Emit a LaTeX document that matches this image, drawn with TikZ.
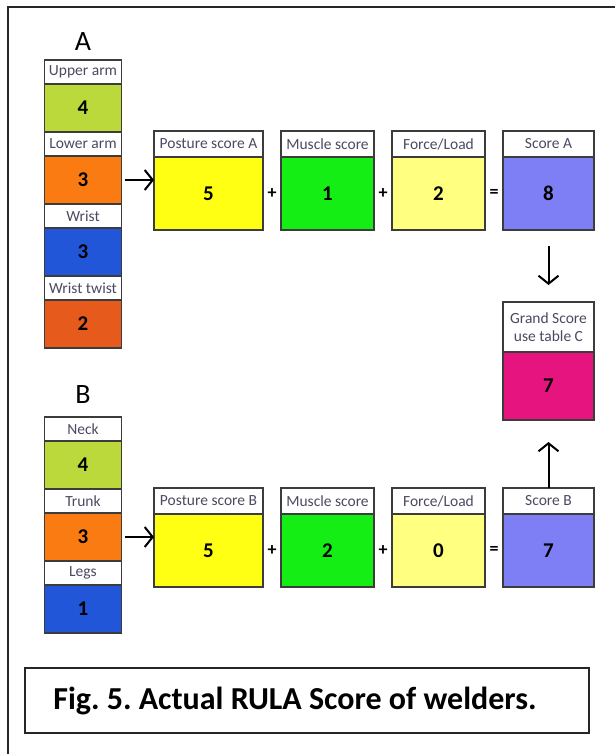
\documentclass[tikz,border=0pt]{standalone}
\usepackage{fontspec}
\setmainfont{Carlito}
\usetikzlibrary{arrows.meta, positioning}
\frenchspacing
\definecolor{boxline}{HTML}{3C3C3C}
\definecolor{hdrtext}{HTML}{4A4A62}
\definecolor{limecol}{HTML}{BCD93C}
\definecolor{orangecol}{HTML}{F97B12}
\definecolor{bluecol}{HTML}{2156D8}
\definecolor{rustcol}{HTML}{E65A1C}
\definecolor{postcol}{HTML}{FFFF14}
\definecolor{musclecol}{HTML}{14EE14}
\definecolor{forcecol}{HTML}{FFFF80}
\definecolor{scorecol}{HTML}{7F7FF5}
\definecolor{grandcol}{HTML}{E6147F}

\begin{document}
\begin{tikzpicture}[
    x=1pt, y=-1pt,
    node distance=0pt and 18pt,
    hdr/.style={draw=boxline, line width=1.8pt, fill=white, inner sep=0pt,
                outer sep=0pt, text=hdrtext, font=\fontsize{15.5}{15.5}\selectfont},
    val/.style={draw=boxline, line width=1.8pt, inner sep=0pt, outer sep=0pt,
                font=\fontsize{21}{21}\selectfont\bfseries},
    colhdr/.style={hdr, minimum width=77pt, minimum height=24pt},
    colval/.style={val, minimum width=77pt, minimum height=48pt},
    rowhdr/.style={hdr, minimum height=26pt},
    rowval/.style={val, minimum height=73pt},
    sign/.style={inner sep=0pt, outer sep=0pt, minimum width=18pt,
                 font=\fontsize{18}{18}\selectfont\bfseries},
    grp/.style={font=\fontsize{28}{28}\selectfont},
    arr/.style={-{Straight Barb[length=8pt, width=20pt]}, line width=2pt},
    capbox/.style={draw=black!85, line width=1.3pt, minimum width=564pt,
                   minimum height=65pt, font=\fontsize{32}{32}\selectfont\bfseries}
  ]
  \useasboundingbox (0,0) rectangle (615,754);
  \draw[line width=1.6pt, black!85] (8,754) -- (8,7) -- (615,7);

  % Group A
  \node[grp] (grpA) at (83,42) {A};
  \node[colhdr, anchor=north] (uah) at (83,60) {Upper arm};
  \node[colval, fill=limecol, below=of uah] (uav) {4};
  \node[colhdr, below=of uav] (lah) {Lower arm};
  \node[colval, fill=orangecol, below=of lah] (lav) {3};
  \node[colhdr, below=of lav] (wrh) {Wrist};
  \node[colval, fill=bluecol, below=of wrh] (wrv) {3};
  \node[colhdr, below=of wrv] (wth) {Wrist twist};
  \node[colval, fill=rustcol, below=of wth] (wtv) {2};

  % Row A
  \node[rowhdr, minimum width=109pt, anchor=north west] (psAh) at (154,131) {Posture score A};
  \node[rowval, minimum width=109pt, fill=postcol, below=of psAh] (psAv) {5};
  \node[rowhdr, minimum width=93pt, right=of psAh] (msAh) {Muscle score};
  \node[rowval, minimum width=93pt, fill=musclecol, below=of msAh] (msAv) {1};
  \node[rowhdr, minimum width=93pt, right=of msAh] (flAh) {Force/Load};
  \node[rowval, minimum width=93pt, fill=forcecol, below=of flAh] (flAv) {2};
  \node[rowhdr, minimum width=91pt, right=of flAh] (scAh) {Score A};
  \node[rowval, minimum width=91pt, fill=scorecol, below=of scAh] (scAv) {8};
  \node[sign, right=0pt of psAv] (plA1) {+};
  \node[sign, right=0pt of msAv] (plA2) {+};
  \node[sign, right=0pt of flAv] (eqA) {=};

  % Grand score
  \node[hdr, minimum width=91pt, minimum height=50pt, align=center, anchor=north]
        (grh) at (548.5,302) {Grand Score\\[3pt]use table C};
  \node[val, minimum width=91pt, minimum height=68pt, fill=grandcol, below=of grh] (grv) {7};

  % Group B
  \node[grp] (grpB) at (83,395) {B};
  \node[colhdr, anchor=north] (nkh) at (83,417) {Neck};
  \node[colval, fill=limecol, below=of nkh] (nkv) {4};
  \node[colhdr, below=of nkv] (trh) {Trunk};
  \node[colval, fill=orangecol, below=of trh] (trv) {3};
  \node[colhdr, below=of trv] (lgh) {Legs};
  \node[colval, fill=bluecol, below=of lgh] (lgv) {1};

  % Row B
  \node[rowhdr, minimum width=109pt, anchor=north west] (psBh) at (154,488) {Posture score B};
  \node[rowval, minimum width=109pt, fill=postcol, below=of psBh] (psBv) {5};
  \node[rowhdr, minimum width=93pt, right=of psBh] (msBh) {Muscle score};
  \node[rowval, minimum width=93pt, fill=musclecol, below=of msBh] (msBv) {2};
  \node[rowhdr, minimum width=93pt, right=of msBh] (flBh) {Force/Load};
  \node[rowval, minimum width=93pt, fill=forcecol, below=of flBh] (flBv) {0};
  \node[rowhdr, minimum width=91pt, right=of flBh] (scBh) {Score B};
  \node[rowval, minimum width=91pt, fill=scorecol, below=of scBh] (scBv) {7};
  \node[sign, right=0pt of psBv] (plB1) {+};
  \node[sign, right=0pt of msBv] (plB2) {+};
  \node[sign, right=0pt of flBv] (eqB) {=};

  % Arrows
  \draw[arr, shorten <=3pt] (lav.east) -- (lav.east -| psAv.west);
  \draw[arr, shorten <=3pt] (trv.east) -- (trv.east -| psBv.west);
  \draw[arr, shorten <=16pt, shorten >=17pt] (scAv.south) -- (grh.north);
  \draw[arr, shorten >=22pt] (scBh.north) -- (grv.south);

  % Caption
  \node[capbox] (cap) at (307,700.5) {Fig. 5. Actual RULA Score of welders.\hspace*{24pt}};
\end{tikzpicture}
\end{document}
